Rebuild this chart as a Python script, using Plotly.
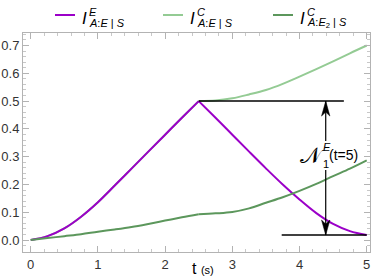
import plotly.graph_objects as go

# ---- data ----
t = [0.0, 0.25, 0.5, 0.75, 1.0, 1.25, 1.5, 1.75, 2.0, 2.25, 2.5,
     2.75, 3.0, 3.25, 3.5, 3.75, 4.0, 4.25, 4.5, 4.75, 5.0]
I_E_AE = [0.0, 0.014, 0.042, 0.084, 0.136, 0.196, 0.257, 0.318, 0.379, 0.440, 0.500,
          0.440, 0.379, 0.318, 0.258, 0.200, 0.146, 0.097, 0.058, 0.032, 0.018]
I_C_AE = [0.0, 0.014, 0.042, 0.084, 0.136, 0.196, 0.257, 0.318, 0.379, 0.440, 0.500,
          0.502, 0.510, 0.524, 0.540, 0.562, 0.588, 0.615, 0.643, 0.672, 0.700]
I_C_AE2 = [0.0, 0.007, 0.014, 0.021, 0.030, 0.038, 0.047, 0.058, 0.070, 0.082, 0.093,
           0.096, 0.101, 0.114, 0.134, 0.154, 0.177, 0.202, 0.230, 0.257, 0.287]

x_ticks = [0, 1, 2, 3, 4, 5]
y_ticks = [0.0, 0.1, 0.2, 0.3, 0.4, 0.5, 0.6, 0.7]

# annotation values
top_level = 0.5
bottom_level = 0.018
arrow_t = 4.39
label_gap = (0.252, 0.356)   # arrow hidden behind the label between these levels

PURPLE = "#9b00c8"
LIGHT = "#94cb94"
DARK = "#5c975c"

W, H = 374, 279
L, R, T, B = 23, 4, 33, 27
PW, PH = W - L - R, H - T - B
XR = [-0.115, 5.049]
YR = [-0.043, 0.745]
XS = PW / (XR[1] - XR[0])   # px per x unit
YS = PH / (YR[1] - YR[0])   # px per y unit

def px(x):
    return (x - L) / PW

def py(y):
    return (H - B - y) / PH

K = t.index(2.5)  # kink in all curves at t = 2.5

fig = go.Figure()
for ys, col in [(I_C_AE, LIGHT), (I_E_AE, PURPLE), (I_C_AE2, DARK)]:
    for sl in (slice(0, K + 1), slice(K, None)):
        fig.add_trace(go.Scatter(x=t[sl], y=ys[sl], mode="lines", line=dict(color=col, width=2, shape="spline"),
                                 showlegend=False, hoverinfo="skip"))

# horizontal reference lines
fig.add_shape(type="line", x0=2.5, x1=4.66, y0=top_level, y1=top_level, line=dict(color="black", width=1.5))
fig.add_shape(type="line", x0=3.735, x1=5.0, y0=bottom_level, y1=bottom_level, line=dict(color="black", width=1.5))

# double arrow split around the label
fig.add_shape(type="line", x0=arrow_t, x1=arrow_t, y0=label_gap[1], y1=top_level, line=dict(color="black", width=1.2))
fig.add_shape(type="line", x0=arrow_t, x1=arrow_t, y0=bottom_level, y1=label_gap[0], line=dict(color="black", width=1.2))

def head(tip, direction):
    hl, hw, notch = 15 / YS, 4.2 / XS, 11 / YS
    b = tip - direction * hl
    n = tip - direction * notch
    return (f"M {arrow_t},{tip} L {arrow_t - hw},{b} L {arrow_t},{n} L {arrow_t + hw},{b} Z")

fig.add_shape(type="path", path=head(top_level, 1), fillcolor="black", line=dict(color="black", width=0.5))
fig.add_shape(type="path", path=head(bottom_level, -1), fillcolor="black", line=dict(color="black", width=0.5))

ann = []
FONT = "Liberation Sans, Arial, sans-serif"
def txt(x, y, s, size, xa="center", italic=False):
    if italic:
        s = "<i>" + s + "</i>"
    ann.append(dict(x=px(x), y=py(y), xref="paper", yref="paper", text=s, showarrow=False,
                    xanchor=xa, yanchor="middle", font=dict(family=FONT, size=size, color="black")))

# label N_1^E(t=5)
txt(312, 155, "𝒩", 22)
txt(321, 147, "E", 11, xa="left", italic=True)
txt(321, 164, "1", 11, xa="left")
txt(327, 155, "(t=5)", 14, xa="left")

# custom legend
legend = [(55, PURPLE, "E", "<i>A</i>:<i>E</i> | <i>S</i>"),
          (163, LIGHT, "C", "<i>A</i>:<i>E</i> | <i>S</i>"),
          (273, DARK, "C", "<i>A</i>:<i>E</i><sub>2</sub> | <i>S</i>")]
for x0, col, sup, sub in legend:
    fig.add_shape(type="line", xref="paper", yref="paper", x0=px(x0), x1=px(x0 + 20), y0=py(15), y1=py(15),
                  line=dict(color=col, width=2))
    txt(x0 + 29, 19, "I", 17, italic=True)
    txt(x0 + 32, 12, sup, 11, xa="left", italic=True)
    txt(x0 + 32, 23, sub, 11, xa="left")

# axis title
ann.append(dict(x=px(203), y=py(268), xref="paper", yref="paper", showarrow=False,
                text="t <span style='font-size:11px'>(s)</span>", xanchor="center", yanchor="middle",
                font=dict(family=FONT, size=16, color="black")))

fig.update_layout(annotations=ann)

axis_common = dict(showgrid=False, zeroline=False, showline=True, linecolor="#b3b3b3", linewidth=1,
                   mirror="ticks", ticks="inside", ticklen=6, tickcolor="#b3b3b3", tickwidth=1,
                   automargin=False,
                   tickfont=dict(family=FONT, size=13, color="#333333"))
fig.update_xaxes(range=XR, tickvals=x_ticks, ticktext=[str(v) for v in x_ticks],
                 minor=dict(dtick=0.2, ticks="inside", ticklen=3, tickcolor="#c8c8c8", showgrid=False),
                 **axis_common)
fig.update_yaxes(range=YR, tickvals=y_ticks, ticktext=[f"{v:.1f}" for v in y_ticks],
                 minor=dict(dtick=0.02, ticks="inside", ticklen=3, tickcolor="#c8c8c8", showgrid=False),
                 **axis_common)

fig.update_layout(width=W, height=H, margin=dict(l=L, r=R, t=T, b=B, pad=0),
                  plot_bgcolor="white", paper_bgcolor="white", showlegend=False)

fig.write_html("out.html", config={"displayModeBar": False},
               post_script="document.body.style.margin='0';document.body.style.overflow='hidden';")
